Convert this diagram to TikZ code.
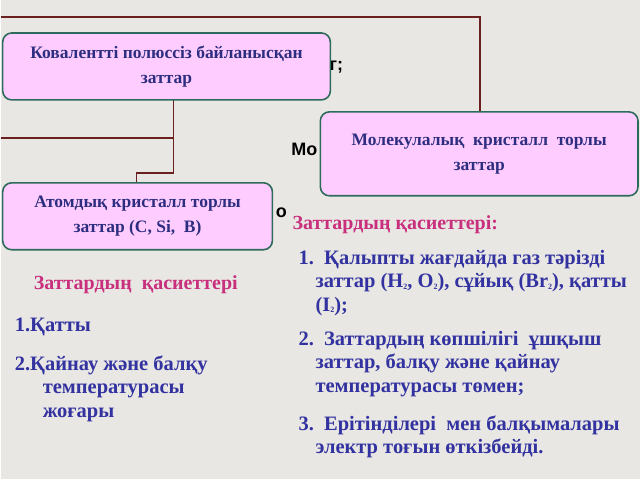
\documentclass[tikz,border=0pt]{standalone}
\usepackage{fontspec}
\setmainfont{Liberation Serif}
\newfontfamily\sansbold{Liberation Sans}
\usepackage{xcolor}
\usetikzlibrary{positioning}
\definecolor{boxfill}{HTML}{FFCCFF}
\definecolor{boxline}{HTML}{2F6B5C}
\definecolor{wire}{HTML}{6B1F1F}
\definecolor{navy}{HTML}{2E2E80}
\definecolor{listblue}{HTML}{3232A0}
\definecolor{headpink}{HTML}{C8307E}
\definecolor{paper}{HTML}{E9E7E3}
\newcommand{\lowsub}[1]{\raisebox{-0.2ex}{\fontsize{8}{8}\selectfont #1}}

\begin{document}
\begin{tikzpicture}[x=1pt, y=-1pt,
    group/.style={rectangle, draw=boxline, line width=1.6pt, rounded corners=9pt, fill=boxfill, text=navy, align=center, font=\fontsize{17.5}{25}\selectfont\bfseries, inner sep=0pt},
    head/.style={anchor=west, text=headpink, font=\fontsize{20}{22}\selectfont\bfseries, inner sep=0pt},
    item/.style={anchor=north west, text=listblue, align=left, font=\fontsize{20.5}{23.5}\selectfont\bfseries, inner sep=0pt},
    stray/.style={font=\sansbold\fontsize{18}{18}\selectfont\bfseries, inner sep=0pt}]
    \fill[paper] (0,0) rectangle (640,480);

    % stray letters behind the boxes
    \node[stray] (mo) at (304,150) {Мо};
    \node[stray] (o) at (281,213) {о};
    \node[stray] (gq) at (336,67) {г;};

    % connectors
    \coordinate (topleft) at (0,17);
    \coordinate (midleft) at (0,138);
    \draw[wire, line width=1.4pt] (topleft) -| (480,112);
    \draw[wire, line width=1.4pt] (midleft) -| (173,100);
    \draw[wire, line width=1.4pt] (173,138) |- (136,173) -- (136,183);

    % boxes
    \node[group, minimum width=328pt, minimum height=67pt] (kov) at (166,66.5) {Ковалентті полюссіз байланысқан\\ заттар};
    \node[group, minimum width=318pt, minimum height=84pt] (mol) at (479,154) {Молекулалық\ \ кристалл\ \ торлы\\ заттар};
    \node[group, minimum width=270pt, minimum height=67pt] (atom) at (137,216.5) {Атомдық кристалл торлы\\ заттар (С, Si,\ \ В)};

    % properties, left
    \node[head] (lhead) at (33,285) {Заттардың\ \ қасиеттері};
    \node[item] (l1) at (14,318) {1.Қатты};
    \node[item] (l2) at (14,356) {2.Қайнау және балқу\\ \hspace*{28pt}температурасы\\ \hspace*{28pt}жоғары};

    % properties, right
    \node[head] (rhead) at (292,225) {Заттардың қасиеттері:};
    \node[item] (r1) at (298,250) {1.\ \ Қалыпты жағдайда газ тәрізді\\ \hspace*{17pt}заттар (H\lowsub{2}, O\lowsub{2}), сұйық (Br\lowsub{2}), қатты\\ \hspace*{17pt}(I\lowsub{2});};
    \node[item] (r2) at (298,331) {2.\ \ Заттардың көпшілігі\ \ ұшқыш\\ \hspace*{17pt}заттар, балқу және қайнау\\ \hspace*{17pt}температурасы төмен;};
    \node[item] (r3) at (298,416) {3.\ \ Ерітінділері\ \ мен балқымалары\\ \hspace*{17pt}электр тоғын өткізбейді.};
\end{tikzpicture}
\end{document}
